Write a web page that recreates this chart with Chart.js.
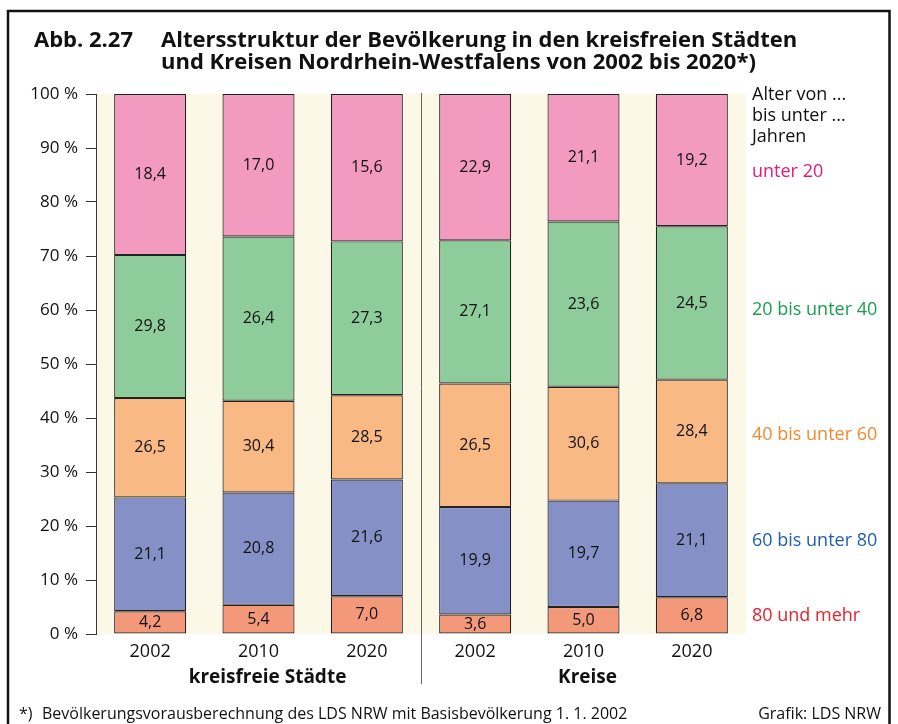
<!DOCTYPE html>
<html lang="de">
<head>
<meta charset="utf-8">
<title>Abb. 2.27 Altersstruktur</title>
<script src="https://cdn.jsdelivr.net/npm/chart.js@4/dist/chart.umd.min.js"></script>
<style>
  html, body { margin: 0; padding: 0; background: #fff; }
  canvas { display: block; }
</style>
</head>
<body>
<canvas id="chart" width="898" height="724"></canvas>
<script>
// Abb. 2.27: age structure, kreisfreie Städte vs. Kreise NRW, 2002/2010/2020.
const years = ["2002", "2010", "2020", "2002", "2010", "2020"];
const groups = ["kreisfreie Städte", "Kreise"];
const yTicks = [0, 10, 20, 30, 40, 50, 60, 70, 80, 90, 100];

// printed values per age group (in %)
const unter20 = [18.4, 17.0, 15.6, 22.9, 21.1, 19.2];
const von20bis40 = [29.8, 26.4, 27.3, 27.1, 23.6, 24.5];
const von40bis60 = [26.5, 30.4, 28.5, 26.5, 30.6, 28.4];
const von60bis80 = [21.1, 20.8, 21.6, 19.9, 19.7, 21.1];
const ab80 = [4.2, 5.4, 7.0, 3.6, 5.0, 6.8];

const FONT = "'Open Sans', 'Noto Sans', sans-serif";
const fmt = v => v.toFixed(1).replace(".", ",");

// In the original graphic the three upper segments are not as tall as their
// own labels: orange is as tall as the "unter 20" value, green as the 40-60
// value, pink as the 20-40 value. Heights follow the picture, labels the text.
const datasets = [
  { label: "80 und mehr", data: ab80, printed: ab80, backgroundColor: "#f4987a", legendColor: "#e8202a" },
  { label: "60 bis unter 80", data: von60bis80, printed: von60bis80, backgroundColor: "#8490c6", legendColor: "#1f5fae" },
  { label: "40 bis unter 60", data: unter20, printed: von40bis60, backgroundColor: "#f9b985", legendColor: "#f08a30" },
  { label: "20 bis unter 40", data: von40bis60, printed: von20bis40, backgroundColor: "#8ecc9c", legendColor: "#1a9e50" },
  { label: "unter 20", data: von20bis40, printed: unter20, backgroundColor: "#f39ac1", legendColor: "#e5197e" }
].map(d => Object.assign(d, {
  borderColor: "#222",
  borderWidth: 1.2,
  borderSkipped: false,
  categoryPercentage: 1,
  barPercentage: 0.665
}));

// cream plot background + outer frame
const backdrop = {
  id: "backdrop",
  beforeDraw(chart) {
    const { ctx, chartArea: a } = chart;
    ctx.save();
    ctx.fillStyle = "#fcf8e8";
    ctx.fillRect(a.left, a.top, a.right - a.left, a.bottom - a.top);
    ctx.restore();
  },
  afterDraw(chart) {
    const { ctx, chartArea: a, scales } = chart;
    ctx.save();
    // frame
    ctx.strokeStyle = "#111";
    ctx.lineWidth = 2.5;
    ctx.strokeRect(8, 11, 881.5, 1000);

    // title
    ctx.fillStyle = "#111";
    ctx.textBaseline = "alphabetic";
    ctx.textAlign = "left";
    ctx.font = "bold 22px " + FONT;
    ctx.fillText("Abb. 2.27", 34, 47, 99);
    ctx.fillText("Altersstruktur der Bevölkerung in den kreisfreien Städten", 161, 47, 639);
    ctx.fillText("und Kreisen Nordrhein-Westfalens von 2002 bis 2020*)", 161, 69, 604);

    // separator between the two groups
    const x = scales.x;
    const sepX = Math.round((x.getPixelForValue(2) + x.getPixelForValue(3)) / 2) + 0.5;
    ctx.strokeStyle = "#666";
    ctx.lineWidth = 1;
    ctx.beginPath();
    ctx.moveTo(sepX, a.top - 1);
    ctx.lineTo(sepX, 684);
    ctx.stroke();

    // group labels under the middle bar of each group
    ctx.font = "bold 19px " + FONT;
    ctx.textAlign = "center";
    ctx.textBaseline = "middle";
    ctx.fillText(groups[0], x.getPixelForValue(1) + 9, 678, 160);
    ctx.fillText(groups[1], x.getPixelForValue(4) + 4, 678, 62);

    // legend on the right
    ctx.textAlign = "left";
    ctx.font = "18px " + FONT;
    ctx.fillStyle = "#111";
    ["Alter von ...", "bis unter ...", "Jahren"].forEach((t, i) => ctx.fillText(t, 752, 95 + i * 21));
    const legendY = { "unter 20": 172, "20 bis unter 40": 310, "40 bis unter 60": 435, "60 bis unter 80": 541, "80 und mehr": 616 };
    chart.data.datasets.forEach(ds => {
      ctx.fillStyle = ds.legendColor;
      ctx.fillText(ds.label, 752, legendY[ds.label], 128);
    });

    // footer
    ctx.fillStyle = "#111";
    ctx.font = "16px " + FONT;
    ctx.fillText("*)", 19, 714);
    ctx.fillText("Bevölkerungsvorausberechnung des LDS NRW mit Basisbevölkerung 1. 1. 2002", 42, 714, 590);
    ctx.textAlign = "right";
    ctx.fillText("Grafik: LDS NRW", 881, 714, 124);
    ctx.restore();
  }
};

// printed numbers in the middle of each segment
const segmentLabels = {
  id: "segmentLabels",
  afterDatasetsDraw(chart) {
    const { ctx } = chart;
    ctx.save();
    ctx.font = "16px " + FONT;
    ctx.fillStyle = "#111";
    ctx.textAlign = "center";
    ctx.textBaseline = "middle";
    chart.data.datasets.forEach((ds, i) => {
      chart.getDatasetMeta(i).data.forEach((bar, j) => {
        ctx.fillText(fmt(ds.printed[j]), bar.x, (bar.y + bar.base) / 2);
      });
    });
    ctx.restore();
  }
};

new Chart(document.getElementById("chart"), {
  type: "bar",
  data: { labels: years, datasets },
  options: {
    responsive: false,
    animation: false,
    devicePixelRatio: 1,
    layout: { padding: { top: 94, right: 152, left: 0, bottom: 0 } },
    plugins: { legend: { display: false }, tooltip: { enabled: false }, title: { display: false } },
    scales: {
      x: {
        stacked: true,
        grid: { display: false, drawTicks: false },
        border: { display: false },
        ticks: { color: "#111", font: { family: FONT, size: 18 }, padding: 7, maxRotation: 0, autoSkip: false },
        afterFit: s => { s.height = 90; }
      },
      y: {
        stacked: true,
        min: 0,
        max: 100,
        afterBuildTicks: s => { s.ticks = yTicks.map(v => ({ value: v })); },
        ticks: { color: "#111", font: { family: FONT, size: 17 }, padding: 8, callback: v => v + " %" },
        grid: { drawOnChartArea: false, tickLength: 10, color: "#333" },
        border: { color: "#333", width: 1 },
        afterFit: s => { s.width = 96; }
      }
    }
  },
  plugins: [backdrop, segmentLabels]
});
</script>
</body>
</html>
